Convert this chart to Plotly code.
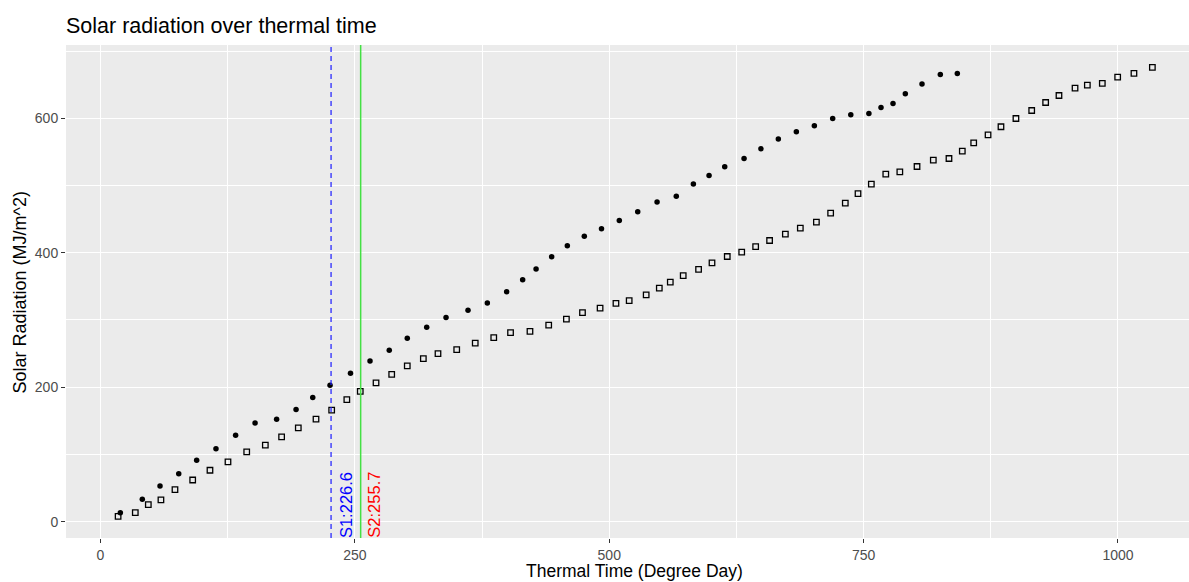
import plotly.graph_objects as go

# Series 1 (filled dots)
s1_tt = [19.5, 41.1, 58.5, 76.9, 94.5, 113.5, 132.8, 151.9, 173.1, 192.2, 208.6, 225.6,
         245.7, 264.9, 283.8, 301.5, 320.6, 339.6, 361.2, 380.2, 399.2, 414.9, 428.1, 443.4,
         458.8, 475.5, 492.4, 509.9, 528.0, 547.0, 565.9, 582.7, 598.1, 613.5, 632.5, 649.1,
         666.2, 683.9, 701.6, 719.6, 737.4, 755.2, 767.1, 778.9, 791.0, 807.4, 825.4, 842.1]
s1_rad = [13.4, 33.3, 53.1, 71.4, 91.4, 108.6, 128.6, 146.9, 152.4, 166.7, 184.8, 203.0,
          220.8, 238.9, 254.8, 272.9, 289.3, 303.6, 314.6, 325.4, 341.8, 359.7, 376.0, 393.9,
          410.3, 424.7, 435.6, 447.9, 460.9, 475.3, 484.2, 502.3, 514.9, 527.8, 540.2, 554.6,
          569.0, 579.9, 588.8, 599.7, 605.2, 607.1, 616.1, 621.8, 636.5, 650.9, 665.2, 666.7]

# Series 2 (open squares)
s2_tt = [17.3, 34.2, 47.0, 59.4, 73.2, 90.6, 107.6, 125.3, 143.7, 162.0, 178.0, 194.4,
         211.8, 227.2, 242.1, 255.3, 270.8, 286.2, 301.5, 317.3, 331.7, 350.1, 368.3, 386.5,
         403.0, 422.1, 440.5, 457.9, 473.7, 491.0, 506.6, 519.6, 536.3, 549.2, 560.0, 572.7,
         587.8, 601.0, 616.0, 630.2, 643.9, 657.6, 673.1, 687.8, 703.6, 717.6, 732.0, 744.5,
         757.6, 771.8, 785.6, 802.5, 818.5, 833.9, 847.0, 858.2, 872.3, 885.0, 899.7, 915.2,
         928.9, 942.0, 957.8, 969.9, 984.6, 999.7, 1015.7, 1033.8]
s2_rad = [8.0, 13.4, 25.3, 32.3, 47.6, 62.0, 76.5, 88.8, 103.7, 113.7, 126.0, 139.4,
          152.4, 165.8, 181.5, 193.7, 206.4, 219.0, 231.7, 242.6, 250.0, 256.0, 265.5, 273.8,
          281.3, 283.0, 292.2, 301.2, 311.0, 317.5, 324.7, 328.9, 337.4, 347.3, 356.2, 366.1,
          375.3, 385.0, 394.4, 401.0, 409.2, 418.2, 427.7, 436.6, 445.5, 458.9, 473.8, 487.8,
          502.2, 516.9, 520.4, 528.3, 537.8, 540.2, 551.2, 563.5, 575.4, 587.4, 599.7, 611.6,
          623.5, 633.9, 644.9, 649.4, 651.8, 661.3, 666.7, 675.6]

s1_line = 226.6
s2_line = 255.7
x_ticks = [0, 250, 500, 750, 1000]
y_ticks = [0, 200, 400, 600]

FONT = "Liberation Sans, Arial, sans-serif"

fig = go.Figure()
fig.add_trace(go.Scatter(x=s2_tt, y=s2_rad, mode="markers",
                         marker=dict(symbol="square-open", size=5.5, color="black",
                                     line=dict(width=1.3, color="black")),
                         showlegend=False))
fig.add_trace(go.Scatter(x=s1_tt, y=s1_rad, mode="markers",
                         marker=dict(symbol="circle", size=5.5, color="black"),
                         showlegend=False))

fig.add_vline(x=s1_line, line=dict(color="#1A1AFF", width=1.2, dash="5px,4px"))
fig.add_vline(x=s2_line, line=dict(color="#44E044", width=1.5))

fig.add_annotation(x=s1_line, y=-24.3, xref="x", yref="y", text="S1:" + str(s1_line),
                   textangle=-90, showarrow=False, xanchor="left", yanchor="bottom",
                   font=dict(family=FONT, size=16.5, color="#0000FF"), xshift=4, yshift=-2)
fig.add_annotation(x=s2_line, y=-24.3, xref="x", yref="y", text="S2:" + str(s2_line),
                   textangle=-90, showarrow=False, xanchor="left", yanchor="bottom",
                   font=dict(family=FONT, size=16.5, color="#FF0000"), xshift=2, yshift=-2)

# axis titles as annotations
fig.add_annotation(x=0.5058, y=-44 / 493, xref="paper", yref="paper",
                   text="Thermal Time (Degree Day)", showarrow=False,
                   xanchor="center", yanchor="bottom",
                   font=dict(family=FONT, size=17.5, color="black"), borderpad=0)
fig.add_annotation(x=-0.041, y=0.5, xref="paper", yref="paper",
                   text="Solar Radiation (MJ/m^2)", showarrow=False, textangle=-90,
                   xanchor="center", yanchor="middle",
                   font=dict(family=FONT, size=18, color="black"))

axis_common = dict(showgrid=True, gridcolor="white", gridwidth=1.1, zeroline=False,
                   showline=False, ticks="outside", ticklen=4, tickwidth=1,
                   tickcolor="#333333", tickfont=dict(family=FONT, size=14, color="#4D4D4D"))

fig.update_layout(
    width=1189, height=582,
    margin=dict(l=66, r=0, t=45, b=44),
    plot_bgcolor="#EBEBEB", paper_bgcolor="white",
    title=dict(text="Solar radiation over thermal time", x=66 / 1189, xanchor="left",
               y=1 - 25 / 582, yanchor="middle",
               font=dict(family=FONT, size=21.5, color="black")),
    xaxis=dict(range=[-33.9, 1069.8], tickvals=x_ticks,
               minor=dict(tickvals=[125, 375, 625, 875], showgrid=True,
                          gridcolor="white", gridwidth=0.5, ticks=""),
               **axis_common),
    yaxis=dict(range=[-24.3, 709], tickvals=y_ticks,
               minor=dict(tickvals=[100, 300, 500, 700], showgrid=True,
                          gridcolor="white", gridwidth=0.5, ticks=""),
               **axis_common),
)

fig.write_html("out.html")
